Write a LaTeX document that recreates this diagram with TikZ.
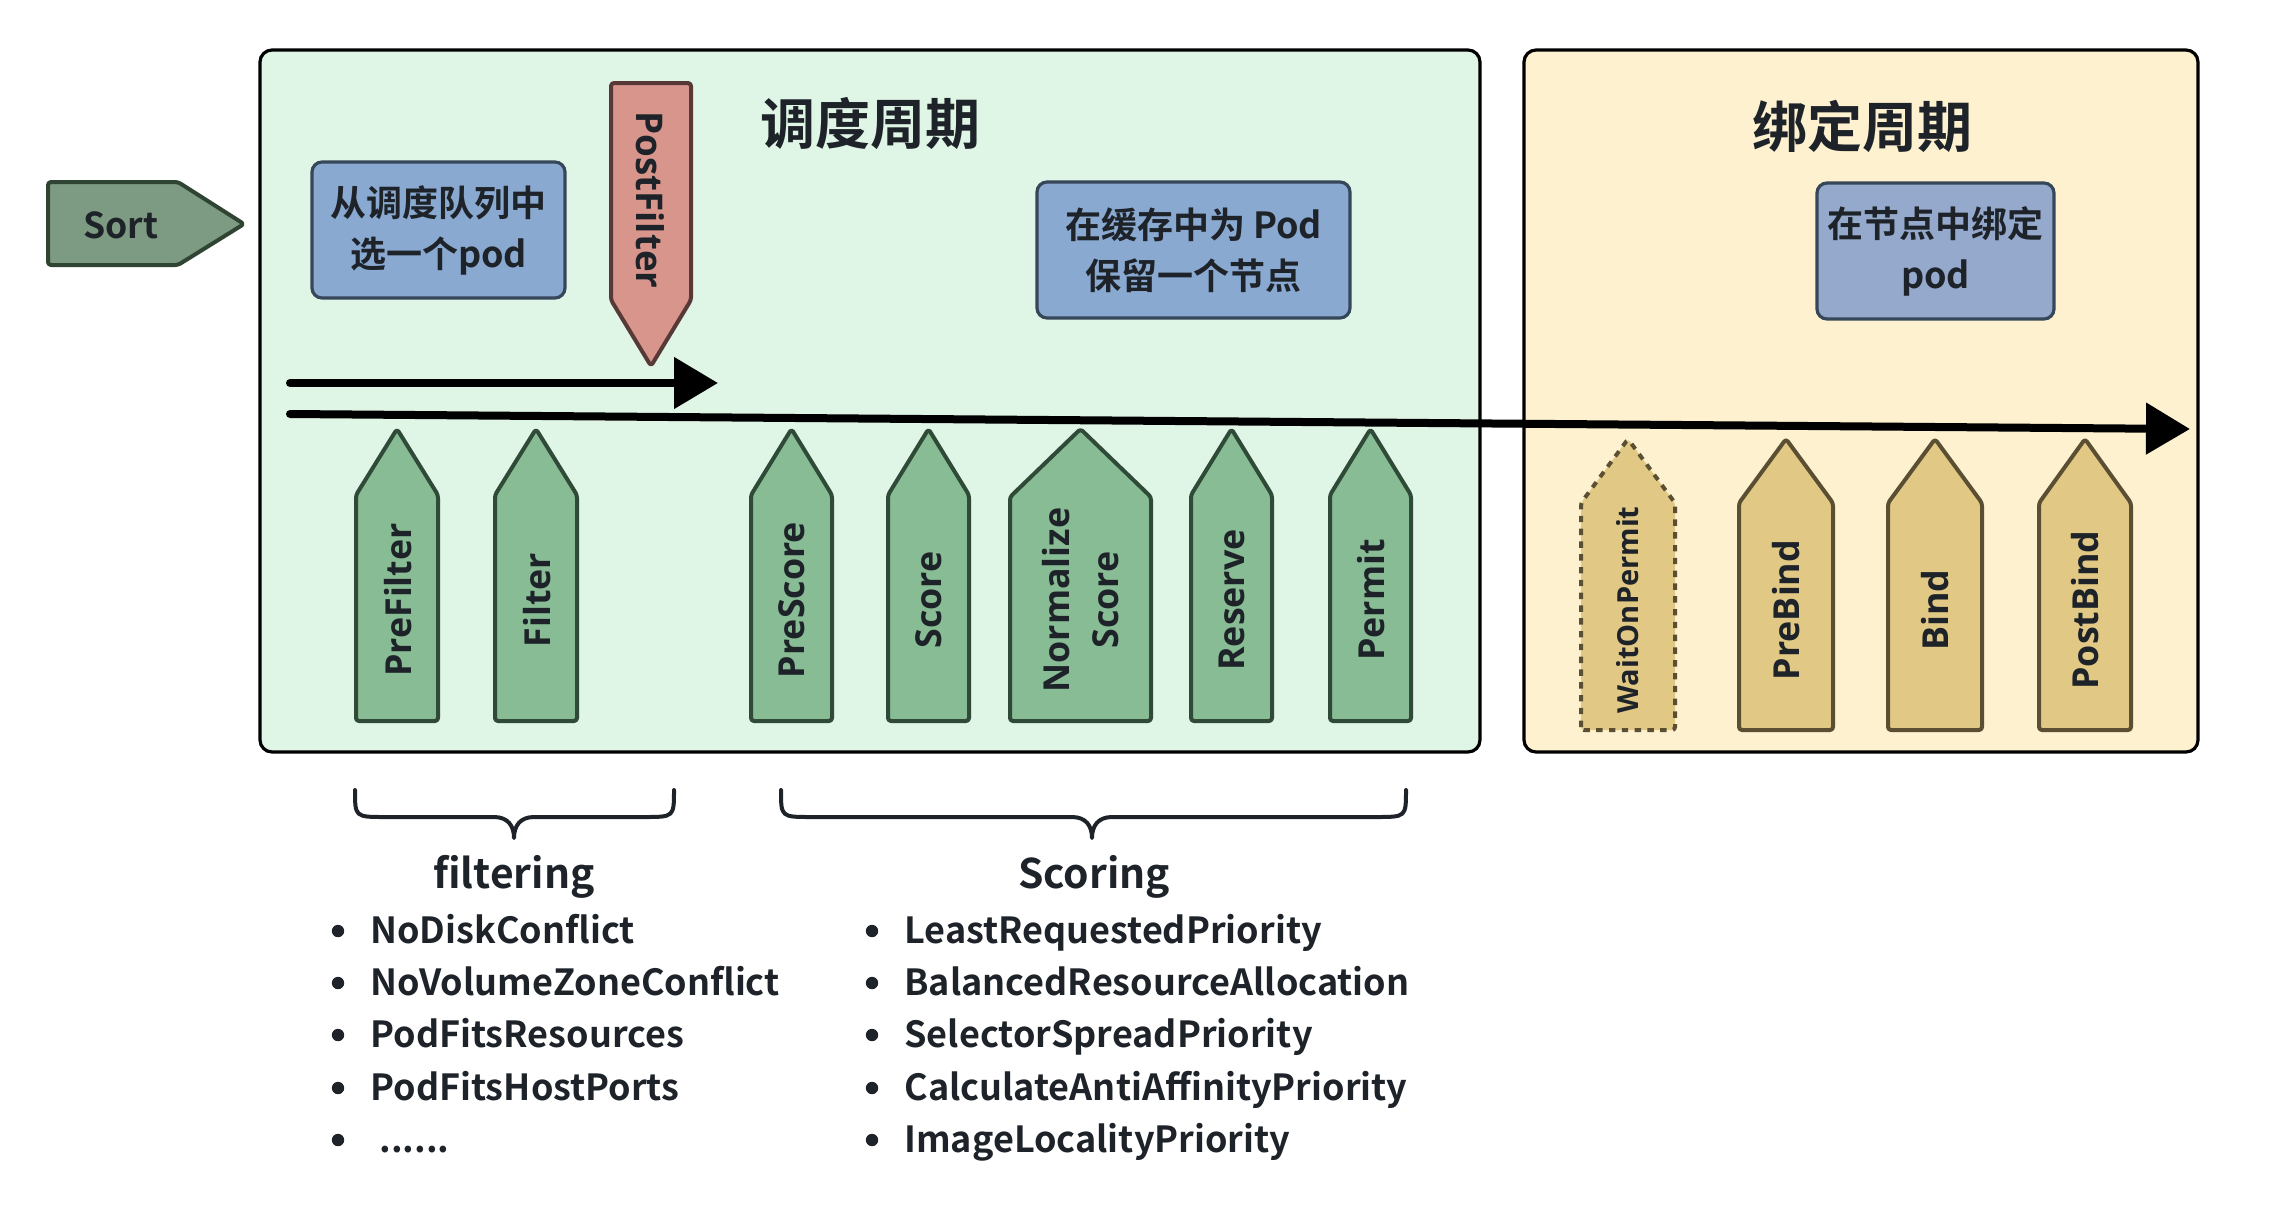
\documentclass[tikz,border=0pt]{standalone}
\usepackage{fontspec}
\setmainfont{Noto Sans CJK SC}[BoldFont={Noto Sans CJK SC Bold}]
\newfontfamily\osans{Open Sans}
\usetikzlibrary{arrows.meta}
\definecolor{txt}{HTML}{1E2329}
\definecolor{greenbg}{HTML}{DFF5E6}
\definecolor{yellowbg}{HTML}{FDF1D0}
\definecolor{sortfill}{HTML}{7D9A83}
\definecolor{sortline}{HTML}{2F4433}
\definecolor{bluefill}{HTML}{8AA9D1}
\definecolor{bluefillb}{HTML}{94A9CB}
\definecolor{blueline}{HTML}{36475A}
\definecolor{redfill}{HTML}{D8958B}
\definecolor{redline}{HTML}{573A37}
\definecolor{gfill}{HTML}{88BC94}
\definecolor{gline}{HTML}{2F4A36}
\definecolor{yfill}{HTML}{E1C985}
\definecolor{yline}{HTML}{5B4F33}
\newcommand\stageup[6]{%
  \draw[#1] (#2,#6) -- (#2,#5) -- ({(#2+#3)/2},#4) -- (#3,#5) -- (#3,#6) -- cycle;}
\tikzset{
  phasebox/.style={draw=black, line width=1.6pt, rounded corners=6pt},
  stagegreen/.style={fill=gfill, draw=gline, line width=2pt, rounded corners=1.5pt, line join=round},
  stageyellow/.style={fill=yfill, draw=yline, line width=2pt, rounded corners=1.5pt, line join=round},
  stagewait/.style={stageyellow, dash pattern=on 3.2pt off 3.2pt},
  vlabel/.style={font=\osans\bfseries\fontsize{17.9}{24.5}\selectfont, text=txt, rotate=90, inner sep=0pt, align=center},
  bluebox/.style={fill=bluefill, draw=blueline, line width=1.6pt, rounded corners=5pt, align=center,
    font=\bfseries\fontsize{18}{25.5}\selectfont, text=txt, inner sep=0pt},
  titletext/.style={font=\bfseries\fontsize{27.5}{33}\selectfont, text=txt, inner sep=0pt},
  headtext/.style={font=\bfseries\fontsize{20.4}{26}\selectfont, text=txt, inner sep=0pt, anchor=base},
  itemtext/.style={font=\bfseries\fontsize{18}{24}\selectfont, text=txt, inner sep=0pt, anchor=base west},
  flowarrow/.style={line width=4pt, line cap=round, -{Triangle[length=22pt,width=25pt]}},
  bracepath/.style={draw=txt, line width=2pt, line cap=round, line join=round},
}
\begin{document}
\begin{tikzpicture}[x=0.5pt, y=-0.5pt]
\useasboundingbox (0,0) rectangle (2272,1212);
% phase boxes
\draw[phasebox, fill=greenbg] (260,50) rectangle (1480,752);
\draw[phasebox, fill=yellowbg] (1524,50) rectangle (2198,752);
\node[titletext] (title1) at (870,124) {调度周期};
\node[titletext] (title2) at (1862,126) {绑定周期};
% Sort
\draw[fill=sortfill, draw=sortline, line width=2pt, rounded corners=1.5pt, line join=round]
  (48,182) -- (178,182) -- (244,224) -- (178,265) -- (48,265) -- cycle;
\node[font=\bfseries\fontsize{17.8}{22}\selectfont, text=txt, inner sep=0pt] (sort) at (121,225) {Sort};
% blue boxes
\node[bluebox, minimum width=126.5pt, minimum height=68pt] (pick) at (438.5,230) {从调度队列中\\选一个pod};
\node[bluebox, minimum width=156.5pt, minimum height=68pt] (reservebox) at (1193.5,250) {在缓存中为 Pod\\保留一个节点};
\node[bluebox, fill=bluefillb, minimum width=118.5pt, minimum height=68pt] (bindbox) at (1935.5,251) {在节点中绑定\\pod};
% PostFilter
\draw[fill=redfill, draw=redline, line width=2pt, rounded corners=1.5pt, line join=round]
  (611,83) -- (691,83) -- (691,300) -- (651,366) -- (611,300) -- cycle;
\node[vlabel, rotate=180, font=\osans\bfseries\fontsize{18.4}{24}\selectfont] (postfilter) at (650,200) {PostFilter};
% flow arrows
\coordinate (a1s) at (290,383);
\coordinate (a1e) at (718,383);
\coordinate (a2s) at (290,414);
\coordinate (a2e) at (2190,429);
\draw[flowarrow] (a1s) -- (a1e);
\draw[flowarrow] (a2s) -- (a2e);
% green stages
\stageup{stagegreen}{356}{438}{429}{495}{721}
\stageup{stagegreen}{495}{577}{429}{495}{721}
\stageup{stagegreen}{751}{832}{429}{495}{721}
\stageup{stagegreen}{888}{969}{429}{495}{721}
\stageup{stagegreen}{1010}{1151}{429}{497}{721}
\stageup{stagegreen}{1191}{1272}{429}{495}{721}
\stageup{stagegreen}{1330}{1411}{429}{495}{721}
\node[vlabel] (prefilter) at (398,600) {PreFilter};
\node[vlabel] (filter) at (537,600) {Filter};
\node[vlabel] (prescore) at (792,600) {PreScore};
\node[vlabel] (score) at (929,600) {Score};
\node[vlabel] (normscore) at (1081,600) {Normalize\\Score};
\node[vlabel] (reserve) at (1232,600) {Reserve};
\node[vlabel] (permit) at (1371,600) {Permit};
% yellow stages
\stageup{stagewait}{1581}{1675}{439}{503}{730}
\stageup{stageyellow}{1739}{1833}{439}{503}{730}
\stageup{stageyellow}{1888}{1982}{439}{503}{730}
\stageup{stageyellow}{2039}{2131}{439}{503}{730}
\node[vlabel, font=\osans\bfseries\fontsize{14.5}{18}\selectfont] (waitonpermit) at (1628,610) {WaitOnPermit};
\node[vlabel] (prebind) at (1786,610) {PreBind};
\node[vlabel] (bind) at (1935,610) {Bind};
\node[vlabel] (postbind) at (2085,610) {PostBind};
% braces
\draw[bracepath] (355,790) .. controls (355,817) .. (385,817) -- (494,817)
  .. controls (508,817) and (514,826) .. (514,838)
  .. controls (514,826) and (520,817) .. (534,817) -- (644,817)
  .. controls (674,817) .. (674,790);
\draw[bracepath] (781,790) .. controls (781,817) .. (811,817) -- (1072,817)
  .. controls (1086,817) and (1092,826) .. (1092,838)
  .. controls (1092,826) and (1098,817) .. (1112,817) -- (1376,817)
  .. controls (1406,817) .. (1406,790);
% headings
\node[headtext] (filtering) at (514,888) {filtering};
\node[headtext] (scoring) at (1094,888) {Scoring};
% lists
\foreach \yy in {943,995,1047,1100,1152} {
  \fill[txt] (338,{\yy-12}) circle (3.1pt);
  \fill[txt] (872,{\yy-12}) circle (3.1pt);
}
\node[itemtext] (f1) at (370,943) {NoDiskConflict};
\node[itemtext] (f2) at (370,995) {NoVolumeZoneConflict};
\node[itemtext] (f3) at (370,1047) {PodFitsResources};
\node[itemtext] (f4) at (370,1100) {PodFitsHostPorts};
\node[itemtext] (f5) at (379,1152) {......};
\node[itemtext] (s1) at (904,943) {LeastRequestedPriority};
\node[itemtext] (s2) at (904,995) {BalancedResourceAllocation};
\node[itemtext] (s3) at (904,1047) {SelectorSpreadPriority};
\node[itemtext] (s4) at (904,1100) {CalculateAntiAffinityPriority};
\node[itemtext] (s5) at (904,1152) {ImageLocalityPriority};
\end{tikzpicture}
\end{document}
